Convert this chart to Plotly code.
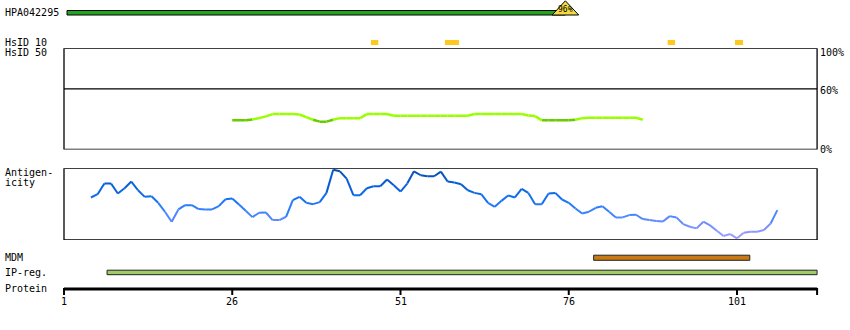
import plotly.graph_objects as go

# ---------------- data ----------------
protein_ticks = [1, 26, 51, 76, 101]
protein_end = 112.9

hpa_name = "HPA042295"
hpa_region = (1.45, 75.5)
hpa_identity = "96%"

hsid10_regions = [(46.6, 47.7), (57.6, 59.7), (90.7, 91.8), (100.7, 101.9)]

hsid50_residues = list(range(26, 88))
hsid50_values = [28.8, 28.8, 28.8, 29.7, 31.0, 32.7, 35.0, 35.0, 35.0, 35.0,
                 34.6, 32.0, 29.4, 27.5, 27.5, 29.4, 31.0, 31.0, 31.0, 31.0,
                 35.0, 35.0, 35.0, 35.0, 33.3, 33.3, 33.3, 33.3, 33.3, 33.3,
                 33.3, 33.3, 33.3, 33.3, 33.3, 33.3, 35.0, 35.0, 35.0, 35.0,
                 35.0, 35.0, 35.0, 35.0, 33.7, 33.0, 28.8, 28.8, 28.8, 28.8,
                 28.8, 29.4, 31.0, 31.4, 31.4, 31.4, 31.4, 31.4, 31.4, 31.4,
                 31.4, 29.4]
hsid50_ticks = [100, 60, 0]

antigen_residues = list(range(5, 108))
antigen_values = [59.3, 63.9, 78.7, 78.7, 64.8, 72.2, 81.5, 69.4, 60.2, 61.1,
                  51.9, 39.4, 25.5, 42.6, 48.6, 48.6, 43.1, 42.6, 42.6, 47.2,
                  56.9, 57.9, 49.5, 40.7, 31.9, 38.0, 38.4, 27.8, 27.8, 32.4,
                  55.6, 60.2, 51.9, 50.0, 52.8, 65.7, 98.1, 95.8, 85.6, 62.5,
                  62.5, 72.2, 75.0, 75.0, 84.3, 76.4, 67.6, 78.7, 95.8, 90.3,
                  88.9, 88.9, 95.4, 81.5, 80.1, 77.8, 69.4, 65.7, 63.9, 51.9,
                  46.3, 54.6, 62.0, 59.3, 71.3, 65.7, 50.0, 50.0, 64.8, 65.7,
                  56.5, 51.9, 44.0, 37.0, 39.4, 44.9, 47.2, 39.4, 31.5, 31.5,
                  34.7, 35.2, 29.2, 27.8, 26.4, 25.9, 33.3, 31.5, 22.2, 18.5,
                  16.2, 25.5, 20.4, 13.0, 5.6, 8.3, 2.3, 10.2, 11.6, 11.6,
                  13.9, 23.1, 41.7]

mdm_region = (79.7, 102.9)
ipreg_region = (7.4, 112.9)

# ---------------- layout geometry ----------------
W, H = 850, 330
PX_RES1 = 64.0
PX_PER_RES = 6.73
x_range = [1 - PX_RES1 / PX_PER_RES, 1 + (W - PX_RES1) / PX_PER_RES]

FONT = "DejaVu Sans Mono"
fig = go.Figure()


def seg_traces(xs, ys, color_fn, yaxis, width):
    groups = {}
    for i in range(len(xs) - 1):
        c = color_fn((ys[i] + ys[i + 1]) / 2)
        g = groups.setdefault(c, ([], []))
        g[0].extend([xs[i], xs[i + 1], None])
        g[1].extend([ys[i], ys[i + 1], None])
    for c, (gx, gy) in groups.items():
        fig.add_trace(go.Scatter(x=gx, y=gy, mode="lines", yaxis=yaxis,
                                 line=dict(color=c, width=width),
                                 hoverinfo="skip", showlegend=False))


def hsid_color(v):
    return "#66cc00" if v < 30 else "#99ff00"


stops = [(0, (172, 160, 255)), (25, (105, 140, 255)), (40, (55, 130, 255)),
         (60, (16, 110, 240)), (80, (5, 92, 212)), (100, (8, 76, 168))]


def antigen_color(v):
    v = round(v / 3) * 3
    v = max(0, min(100, v))
    for (a, ca), (b, cb) in zip(stops[:-1], stops[1:]):
        if a <= v <= b:
            t = (v - a) / (b - a)
            c = [round(ca[k] + t * (cb[k] - ca[k])) for k in range(3)]
            return "rgb(%d,%d,%d)" % tuple(c)
    return "rgb(8,76,168)"


seg_traces(hsid50_residues, hsid50_values, hsid_color, "y2", 2.5)
seg_traces(antigen_residues, antigen_values, antigen_color, "y3", 2)

shapes = []
# HsID 50 box and 60% line
shapes.append(dict(type="rect", xref="x", yref="y2", x0=1, x1=protein_end, y0=0, y1=100,
                   line=dict(color="black", width=1.3), fillcolor="rgba(0,0,0,0)"))
shapes.append(dict(type="line", xref="x", yref="y2", x0=1, x1=protein_end, y0=60, y1=60,
                   line=dict(color="black", width=1.3)))
# antigenicity box
shapes.append(dict(type="rect", xref="x", yref="y3", x0=1, x1=protein_end, y0=0, y1=100,
                   line=dict(color="black", width=1.3), fillcolor="rgba(0,0,0,0)"))
# HPA bar
shapes.append(dict(type="rect", xref="x", yref="y", x0=hpa_region[0], x1=hpa_region[1],
                   y0=10.5, y1=15, line=dict(color="black", width=1), fillcolor="#22a51e"))
half = 13.3 / PX_PER_RES
apex = hpa_region[1]
shapes.append(dict(type="path", xref="x", yref="y",
                   path="M %f,15 L %f,0.8 L %f,15 Z" % (apex - half, apex, apex + half),
                   line=dict(color="black", width=1), fillcolor="#f2da44"))
# HsID 10 markers
for a, b in hsid10_regions:
    shapes.append(dict(type="rect", xref="x", yref="y", x0=a, x1=b, y0=40, y1=45,
                       line=dict(width=0), fillcolor="#ffc820"))
# MDM and IP-reg bars
shapes.append(dict(type="rect", xref="x", yref="y", x0=mdm_region[0], x1=mdm_region[1],
                   y0=255.2, y1=260.3, line=dict(color="#222", width=1), fillcolor="#c87814"))
shapes.append(dict(type="rect", xref="x", yref="y", x0=ipreg_region[0], x1=ipreg_region[1],
                   y0=270.2, y1=274.7, line=dict(color="#222", width=1), fillcolor="#a0cc66"))
# protein axis
shapes.append(dict(type="line", xref="x", yref="y", x0=1, x1=protein_end, y0=289, y1=289,
                   line=dict(color="black", width=3)))
for t in protein_ticks + [protein_end]:
    shapes.append(dict(type="line", xref="x", yref="y", x0=t, x1=t, y0=288, y1=295,
                       line=dict(color="black", width=2)))

ann = []


def label(text, px_x, y, xanchor="left", yref="y", yanchor="middle", size=10, yshift=0):
    ann.append(dict(text=text, x=px_x / W, xref="paper", y=y, yref=yref,
                    xanchor=xanchor, yanchor=yanchor, showarrow=False, yshift=yshift,
                    font=dict(family=FONT, size=size, color="black")))


label(hpa_name, 3, 12.5)
label("HsID 10", 3, 42.5)
label("HsID 50", 3, 52.5)
label("Antigen-", 3, 172.5)
label("icity", 3, 182.5)
label("MDM", 3, 257.5)
label("IP-reg.", 3, 272)
label("Protein", 3, 288.5)
for v in hsid50_ticks:
    shift = -4.5 if v == 100 else (-1.5 if v == 60 else 0)
    label("%d%%" % v, 818, v, yref="y2", yanchor="middle", yshift=shift)
ann.append(dict(text=hpa_identity, x=apex, xref="x", y=9.5, yref="y", showarrow=False,
                xanchor="center", yanchor="middle",
                font=dict(family=FONT, size=8, color="black")))
for t in protein_ticks:
    ann.append(dict(text=str(t), x=t, xref="x", y=301, yref="y", showarrow=False,
                    xanchor="center", yanchor="middle",
                    font=dict(family=FONT, size=10, color="black")))

fig.update_layout(
    width=W, height=H, margin=dict(l=0, r=0, t=0, b=0),
    paper_bgcolor="white", plot_bgcolor="white", showlegend=False,
    xaxis=dict(range=x_range, visible=False, domain=[0, 1]),
    yaxis=dict(range=[H, 0], visible=False, domain=[0, 1]),
    yaxis2=dict(range=[0, 100], visible=False, domain=[1 - 149.5 / H, 1 - 48.3 / H], anchor="x"),
    yaxis3=dict(range=[0, 100], visible=False, domain=[1 - 240 / H, 1 - 168.3 / H], anchor="x"),
    shapes=shapes, annotations=ann,
)
fig.write_html("out.html")
